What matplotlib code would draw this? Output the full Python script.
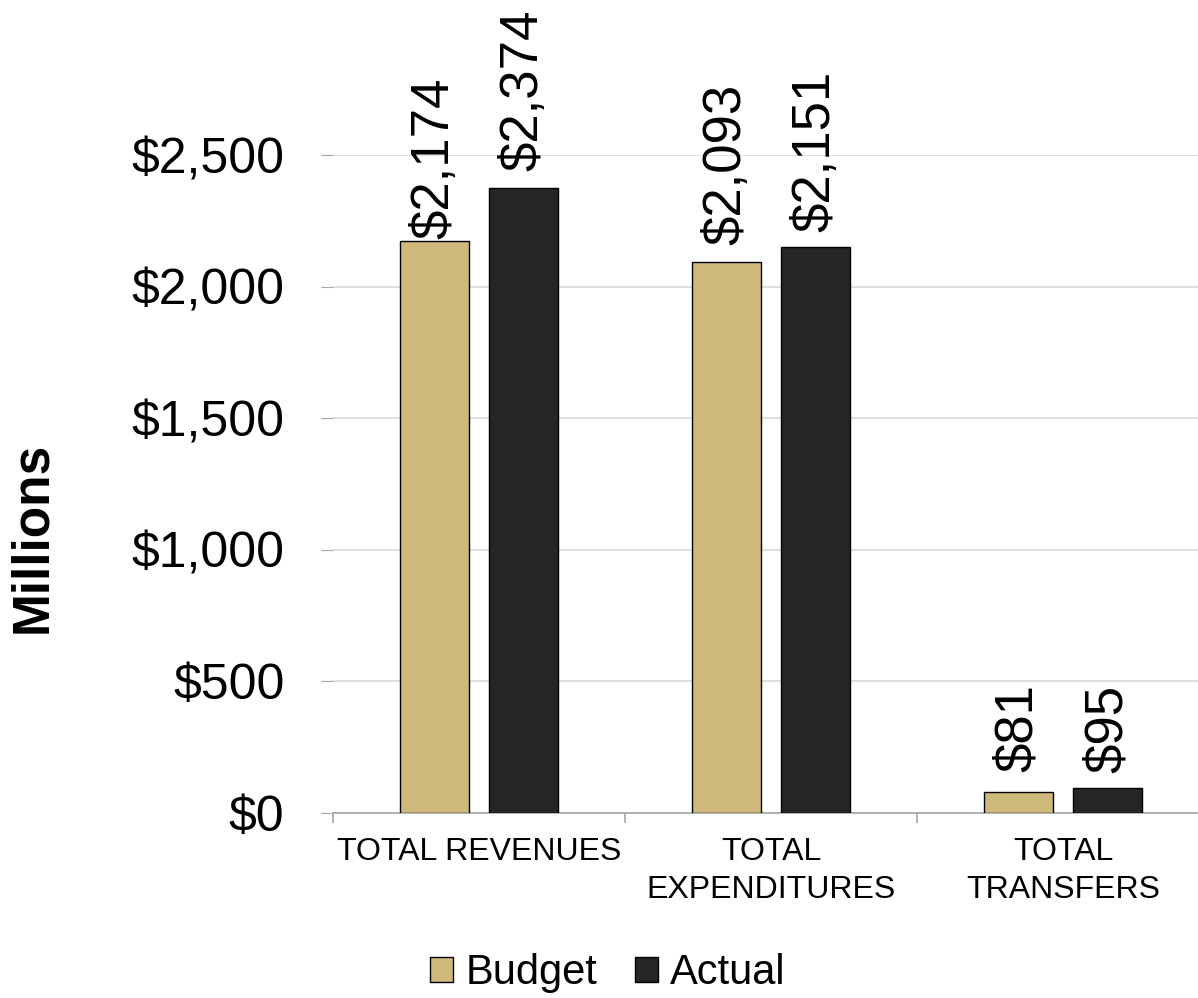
import numpy as np
import matplotlib.pyplot as plt
from matplotlib.ticker import FuncFormatter

plt.rcParams['font.family'] = ['Liberation Sans', 'DejaVu Sans']

# --- Data ---
categories = ['TOTAL REVENUES', 'TOTAL\nEXPENDITURES', 'TOTAL\nTRANSFERS']
budget = [2174, 2093, 81]
actual = [2374, 2151, 95]

budget_color = '#cfb87c'
actual_color = '#262626'

fig = plt.figure(figsize=(11.98, 9.98), dpi=100)
ax = fig.add_axes([333 / 1198, 185 / 998, 876 / 1198, 658 / 998])

x = np.arange(len(categories))
w = 0.236
off = 0.153

b1 = ax.bar(x - off, budget, w, color=budget_color, edgecolor='black', linewidth=1, label='Budget', zorder=3)
b2 = ax.bar(x + off, actual, w, color=actual_color, edgecolor='black', linewidth=1, label='Actual', zorder=3)

# value labels above bars, rotated (gap in points, as placed in the original)
gaps = [[1, 12, 14], [12, 11, 11]]
for bars, vals, gp in [(b1, budget, gaps[0]), (b2, actual, gaps[1])]:
    for rect, v, g in zip(bars, vals, gp):
        ax.annotate(f'${v:,}', (rect.get_x() + rect.get_width() / 2, v),
                    xytext=(0, g), textcoords='offset points',
                    ha='center', va='bottom', rotation=90, fontsize=38,
                    annotation_clip=False)

ax.set_xlim(-0.5, 2.5)
ax.set_ylim(0, 2500)
ax.set_yticks(np.arange(0, 2501, 500))
ax.yaxis.set_major_formatter(FuncFormatter(lambda v, p: f'${v:,.0f}'))
ax.tick_params(axis='y', labelsize=36, length=9, color='#a6a6a6', pad=26)
ax.grid(axis='y', color='#d9d9d9', linewidth=1.2, zorder=0)
ax.set_axisbelow(True)

# category labels at centres, separator ticks between groups
ax.set_xticks(x)
ax.set_xticklabels(categories, fontsize=23, linespacing=1.35)
ax.tick_params(axis='x', which='major', length=0, pad=17)
ax.set_xticks([-0.5, 0.5, 1.5, 2.5], minor=True)
ax.tick_params(axis='x', which='minor', length=7, color='#a6a6a6', width=1.2)

for s in ['top', 'right', 'left']:
    ax.spines[s].set_visible(False)
ax.spines['bottom'].set_color('#a6a6a6')
ax.spines['bottom'].set_linewidth(1.2)

fig.text(33 / 1198, 0.462, 'Millions', rotation=90, fontsize=37, fontweight='bold',
         ha='center', va='center')

fig.legend(handles=[b1, b2], labels=['Budget', 'Actual'], loc='center',
           bbox_to_anchor=(608 / 1198, 1 - 973 / 998), ncol=2, frameon=False,
           fontsize=30, handlelength=0.55, handleheight=0.55, handletextpad=0.3,
           columnspacing=0.9)

fig.savefig('out.png', dpi=100)
